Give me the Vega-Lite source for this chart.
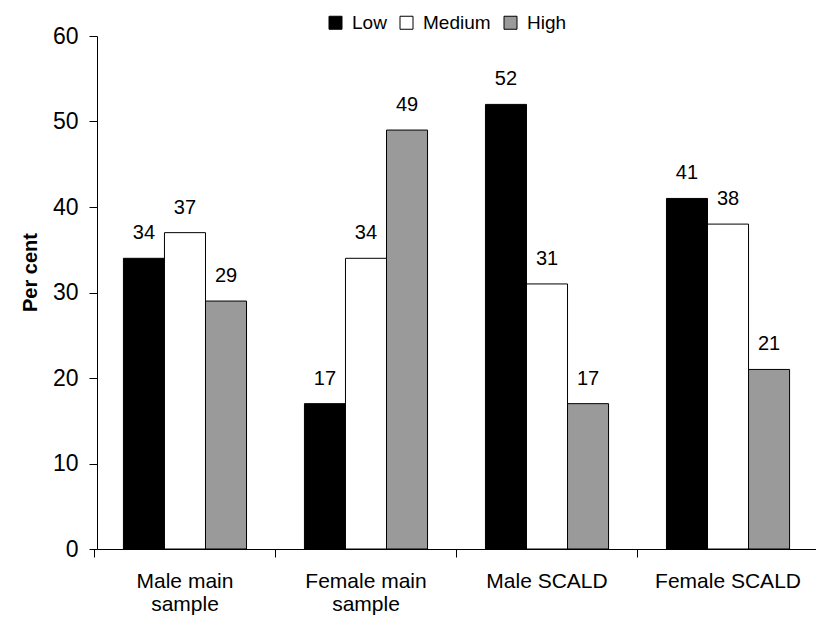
{
  "$schema": "https://vega.github.io/schema/vega-lite/v6.json",
  "autosize": "none",
  "width": 719,
  "height": 513,
  "padding": {"left": 97, "top": 36, "right": 0, "bottom": 79},
  "background": "white",
  "config": {
    "font": "Liberation Sans",
    "view": {"stroke": null},
    "axis": {"domainColor": "#000", "tickColor": "#000", "labelColor": "#000", "titleColor": "#000", "grid": false}
  },
  "data": {
    "values": [
      {"group": "Male main sample", "level": "Low", "pct": 34},
      {"group": "Male main sample", "level": "Medium", "pct": 37},
      {"group": "Male main sample", "level": "High", "pct": 29},
      {"group": "Female main sample", "level": "Low", "pct": 17},
      {"group": "Female main sample", "level": "Medium", "pct": 34},
      {"group": "Female main sample", "level": "High", "pct": 49},
      {"group": "Male SCALD", "level": "Low", "pct": 52},
      {"group": "Male SCALD", "level": "Medium", "pct": 31},
      {"group": "Male SCALD", "level": "High", "pct": 17},
      {"group": "Female SCALD", "level": "Low", "pct": 41},
      {"group": "Female SCALD", "level": "Medium", "pct": 38},
      {"group": "Female SCALD", "level": "High", "pct": 21}
    ]
  },
  "encoding": {
    "x": {
      "field": "group", "type": "nominal", "sort": null,
      "scale": {"paddingInner": 0.32, "paddingOuter": 0.146},
      "axis": {
        "title": null, "labelAngle": 0, "bandPosition": -0.235, "tickSize": 8,
        "labelFontSize": 21, "labelPadding": 13, "labelLineHeight": 23,
        "labelExpr": "datum.value == 'Male main sample' ? ['Male main', 'sample'] : datum.value == 'Female main sample' ? ['Female main', 'sample'] : datum.value"
      }
    },
    "xOffset": {"field": "level", "type": "nominal", "sort": ["Low", "Medium", "High"], "scale": {"paddingInner": 0, "paddingOuter": 0}},
    "y": {
      "field": "pct", "type": "quantitative",
      "scale": {"domain": [0, 60]},
      "axis": {"title": "Per cent", "titleFontSize": 20, "titleFontWeight": "bold", "titlePadding": 12, "titleY": 236, "values": [0, 10, 20, 30, 40, 50, 60], "tickSize": 8, "labelFontSize": 23, "labelPadding": 11}
    }
  },
  "layer": [
    {
      "mark": {"type": "bar", "stroke": "#000", "strokeWidth": 1},
      "encoding": {
        "fill": {
          "field": "level", "type": "nominal",
          "scale": {"domain": ["Low", "Medium", "High"], "range": ["#000000", "#ffffff", "#9a9a9a"]},
          "legend": {
            "title": null, "orient": "none", "direction": "horizontal", "legendX": 229, "legendY": -23,
            "symbolType": "square", "symbolSize": 169, "symbolStrokeColor": "#000", "symbolStrokeWidth": 1,
            "labelFontSize": 19, "columnPadding": 10, "labelOffset": 7
          }
        }
      }
    },
    {
      "mark": {"type": "text", "baseline": "alphabetic", "dy": -19, "fontSize": 20, "color": "#000"},
      "encoding": {"text": {"field": "pct", "type": "quantitative"}}
    }
  ]
}
